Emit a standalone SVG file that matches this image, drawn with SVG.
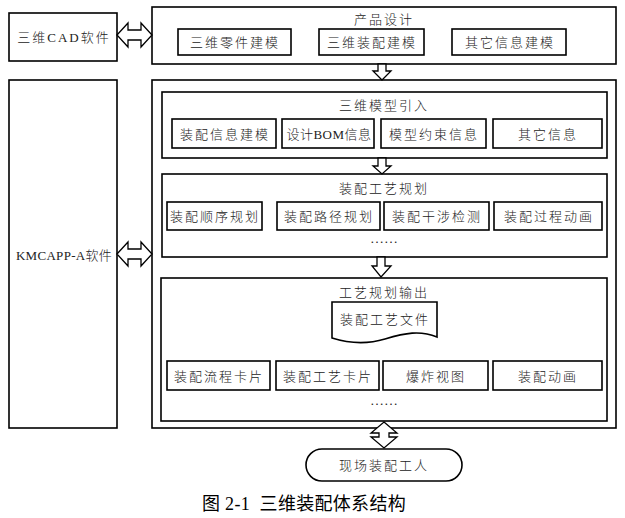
<svg xmlns="http://www.w3.org/2000/svg" width="625" height="518" viewBox="0 0 625 518">
<style>
.box{fill:#fff;stroke:#000;stroke-width:1.6}
.item{fill:#fff;stroke:#000;stroke-width:1.6}
.arr{fill:#fff;stroke:#000;stroke-width:1.3;stroke-linejoin:miter}
text{font-family:"Liberation Serif","Noto Sans CJK SC",serif;font-size:13px;font-weight:300;fill:#222;text-anchor:middle;letter-spacing:2px}
.cap{font-family:"Liberation Serif","Noto Sans CJK SC",sans-serif;font-size:18px;font-weight:400;fill:#000;letter-spacing:0.3px}
.dots{font-family:"Noto Sans CJK SC",sans-serif;letter-spacing:0;font-size:14px}
</style>
<rect width="625" height="518" fill="#fff"/>

<g id="cad">
<rect class="box" x="9" y="13" width="108" height="48"/>
<text x="64" y="42">三维CAD软件</text>
</g>

<g id="product-design">
<rect class="box" x="152" y="7" width="464" height="57"/>
<text x="384" y="24">产品设计</text>
<g id="pd-part"><rect class="item" x="178" y="29" width="113" height="26"/><text x="235" y="47">三维零件建模</text></g>
<g id="pd-asm"><rect class="item" x="319" y="29" width="105" height="26"/><text x="372" y="47">三维装配建模</text></g>
<g id="pd-other"><rect class="item" x="452" y="29" width="114" height="26"/><text x="510" y="47">其它信息建模</text></g>
</g>

<g id="kmcapp">
<rect class="box" x="9" y="80" width="108" height="348"/>
<text x="64" y="260" style="letter-spacing:0.3px">KMCAPP-A软件</text>
</g>

<g id="main">
<rect class="box" x="152" y="80" width="464" height="348"/>
</g>

<g id="model-import">
<rect class="box" x="162" y="92" width="445" height="66"/>
<text x="384" y="110">三维模型引入</text>
<g id="mi-1"><rect class="item" x="172" y="119" width="104" height="29"/><text x="225" y="139">装配信息建模</text></g>
<g id="mi-2"><rect class="item" x="282" y="119" width="92" height="29"/><text x="329" y="139" style="letter-spacing:0.5px">设计BOM信息</text></g>
<g id="mi-3"><rect class="item" x="381" y="119" width="105" height="29"/><text x="434" y="139">模型约束信息</text></g>
<g id="mi-4"><rect class="item" x="493" y="119" width="109" height="29"/><text x="548" y="139">其它信息</text></g>
</g>

<g id="process-planning">
<rect class="box" x="162" y="174" width="445" height="83"/>
<text x="384" y="193">装配工艺规划</text>
<g id="pp-1"><rect class="item" x="167" y="202" width="95" height="28"/><text x="215" y="221">装配顺序规划</text></g>
<g id="pp-2"><rect class="item" x="277" y="202" width="103" height="28"/><text x="329" y="221">装配路径规划</text></g>
<g id="pp-3"><rect class="item" x="384" y="202" width="105" height="28"/><text x="437" y="221">装配干涉检测</text></g>
<g id="pp-4"><rect class="item" x="494" y="202" width="108" height="28"/><text x="549" y="221">装配过程动画</text></g>
<text class="dots" x="384" y="247">……</text>
</g>

<g id="output">
<rect class="box" x="161" y="278" width="446" height="143"/>
<text x="384" y="297">工艺规划输出</text>
<g id="doc">
<path class="item" d="M332,302 L437,302 L437,337 C420,330 405,333 385,339 C365,345 348,343 332,338 Z"/>
<text x="385" y="324">装配工艺文件</text>
</g>
<g id="out-1"><rect class="item" x="167" y="361" width="103" height="29"/><text x="219" y="381">装配流程卡片</text></g>
<g id="out-2"><rect class="item" x="276" y="361" width="103" height="29"/><text x="328" y="381">装配工艺卡片</text></g>
<g id="out-3"><rect class="item" x="383" y="361" width="105" height="29"/><text x="436" y="381">爆炸视图</text></g>
<g id="out-4"><rect class="item" x="493" y="361" width="109" height="29"/><text x="548" y="381">装配动画</text></g>
<text class="dots" x="384" y="409">……</text>
</g>

<g id="worker">
<rect class="box" x="306" y="449" width="156" height="32" rx="16" ry="16"/>
<text x="384" y="470">现场装配工人</text>
</g>

<g id="connectors">
<path class="arr" d="M117,35 L128,23 L128,30 L141,30 L141,23 L152,35 L141,47 L141,40 L128,40 L128,47 Z"/>
<path class="arr" d="M117,254 L128,242 L128,249 L141,249 L141,242 L152,254 L141,266 L141,259 L128,259 L128,266 Z"/>
<path class="arr" d="M378,64 L386,64 L386,71 L391,71 L382,80 L373,71 L378,71 Z"/>
<path class="arr" d="M378,158 L386,158 L386,166 L391,166 L382,174 L373,166 L378,166 Z"/>
<path class="arr" d="M377,257 L385,257 L385,266 L391,266 L381,277 L372,266 L377,266 Z"/>
<path class="arr" d="M384,422 L397,433 L389,433 L389,437 L397,437 L384,448 L371,437 L379,437 L379,433 L371,433 Z"/>
</g>

<text class="cap" x="304" y="510" xml:space="preserve">图 2-1  三维装配体系结构</text>
</svg>
